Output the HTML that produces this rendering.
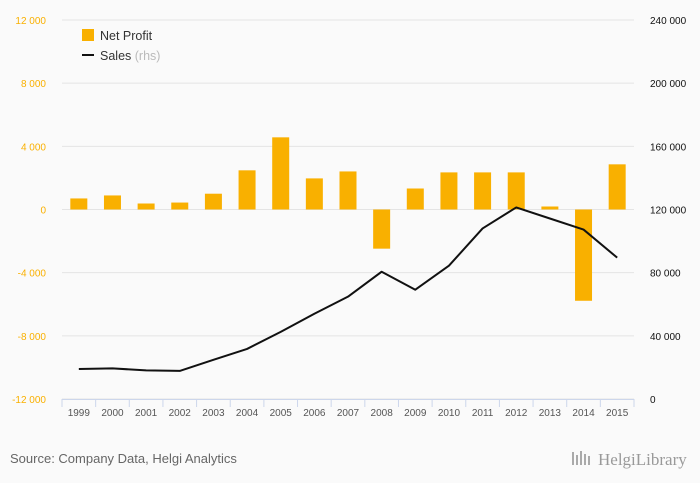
<!DOCTYPE html>
<html><head><meta charset="utf-8"><style>
body{margin:0;background:#fafafa;font-family:"Liberation Sans",sans-serif;}
svg{display:block}
</style></head><body>
<svg width="700" height="483" viewBox="0 0 700 483">
<rect width="700" height="483" fill="#fafafa"/>
<g id="grid"></g><g id="bars"></g><g id="line"></g><g id="axes"></g>
<g>
<rect x="82" y="29" width="12" height="12" fill="#f9b000"/>
<text x="100" y="40" font-size="12.5" fill="#333">Net Profit</text>
<rect x="82" y="54" width="12" height="2" fill="#111"/>
<text x="100" y="60" font-size="12.5" fill="#333">Sales <tspan fill="#bbb">(rhs)</tspan></text>
</g>
<text x="10" y="463" font-size="13" fill="#666">Source: Company Data, Helgi Analytics</text>
<text x="598" y="465" font-size="17" fill="#999" font-family="Liberation Serif,serif">HelgiLibrary</text>
<g fill="#aaa"><rect x="572" y="452" width="2" height="13"/><rect x="576" y="455" width="2" height="10"/><rect x="580" y="451" width="2" height="14"/><rect x="584" y="454" width="2" height="11"/><rect x="588" y="456" width="2" height="9"/></g>
</svg>
<script>
const years=["1999","2000","2001","2002","2003","2004","2005","2006","2007","2008","2009","2010","2011","2012","2013","2014","2015"];
const netProfit=[700,890,380,440,1000,2480,4570,1970,2410,-2480,1330,2350,2350,2350,190,-5780,2860];
const sales=[19000,19400,18100,17800,24800,31700,42500,54000,64800,80600,69200,84400,108000,121300,114300,107300,89500];
const leftTicks=[12000,8000,4000,0,-4000,-8000,-12000];
const rightTicks=[240000,200000,160000,120000,80000,40000,0];
const NS="http://www.w3.org/2000/svg";
const X0=62,X1=634,YT=20,YB=399;
const step=(X1-X0)/years.length;
const xc=i=>X0+step*(i+0.5);
const yL=v=>YT+(12000-v)/24000*(YB-YT);
const yR=v=>YT+(240000-v)/240000*(YB-YT);
const fmt=v=>{const s=Math.abs(v).toString().replace(/\B(?=(\d{3})+(?!\d))/g," ");return (v<0?"-":"")+s;};
function mk(t,a,p){const e=document.createElementNS(NS,t);for(const k in a)e.setAttribute(k,a[k]);p.appendChild(e);return e;}
const grid=document.getElementById("grid"),axes=document.getElementById("axes");
leftTicks.forEach(v=>{
 const l=mk("line",{x1:X0,x2:X1,y1:yL(v),y2:yL(v),stroke:"#e4e4e4","stroke-width":1},grid);
 
 
 const t=mk("text",{x:46,y:yL(v)+4,"font-size":10,fill:"#f9b000","text-anchor":"end"},axes);
 t.textContent=fmt(v);
 
 
});
rightTicks.forEach(v=>{
 const t=mk("text",{x:650,y:yR(v)+4,"font-size":10,fill:"#111"},axes);
 t.textContent=fmt(v);
 
 
});
const ax=mk("line",{x1:X0,x2:X1,y1:YB+0.5,y2:YB+0.5,stroke:"#ccd6eb"},axes);


for(let i=0;i<=years.length;i++){
 const tk=mk("line",{x1:X0+step*i,x2:X0+step*i,y1:YB,y2:YB+8,stroke:"#ccd6eb"},axes);
 
 
}
years.forEach((y,i)=>{
 const t=mk("text",{x:xc(i),y:416,"font-size":10,fill:"#555","text-anchor":"middle"},axes);
 t.textContent=y;
 
 
});
const bars=document.getElementById("bars");
netProfit.forEach((v,i)=>{
 const y0=yL(0),y1=yL(v);
 const r=mk("rect",{x:xc(i)-8.5,y:Math.min(y0,y1),width:17,height:Math.abs(y1-y0),fill:"#f9b000"},bars);
 
 
});
const pl=mk("polyline",{points:sales.map((v,i)=>xc(i)+","+yR(v)).join(" "),fill:"none",stroke:"#111","stroke-width":2,"stroke-linejoin":"round"},document.getElementById("line"));


</script>
</body></html>
